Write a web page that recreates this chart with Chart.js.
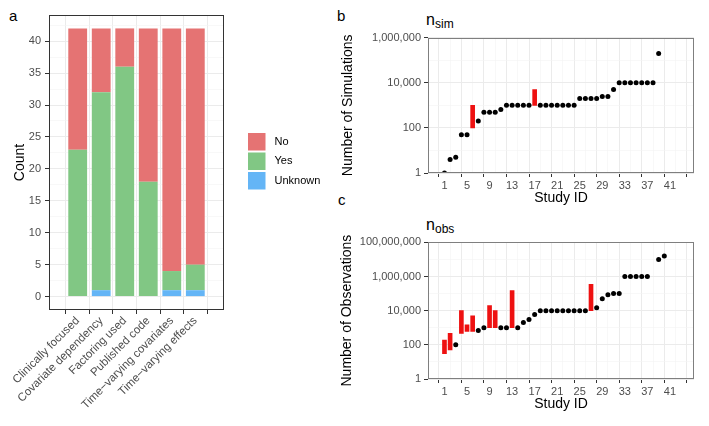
<!DOCTYPE html>
<html>
<head>
<meta charset="utf-8">
<script src="https://cdn.jsdelivr.net/npm/chart.js@4.4.1/dist/chart.umd.min.js"></script>
<style>
  body { margin: 0; background: #fff; width: 709px; height: 426px; position: relative; overflow: hidden;
         font-family: 'Liberation Sans', Arial, sans-serif; }
  canvas { position: absolute; }
  .lab { position: absolute; line-height: 1; color: #000; white-space: nowrap; }
</style>
</head>
<body>
<div class="lab" style="left:9px;top:8px;font-size:15px">a</div>
<div class="lab" style="left:337px;top:8px;font-size:15px">b</div>
<div class="lab" style="left:338px;top:192px;font-size:15px">c</div>
<div class="lab" style="left:426px;top:11.5px;font-size:16px">n</div>
<div class="lab" style="left:435px;top:18px;font-size:12px">sim</div>
<div class="lab" style="left:426px;top:216.5px;font-size:16px">n</div>
<div class="lab" style="left:435px;top:222.5px;font-size:12px">obs</div>

<canvas id="ca" width="330" height="426" style="left:0;top:0"></canvas>
<canvas id="cb" width="379" height="210" style="left:330px;top:0"></canvas>
<canvas id="cc" width="379" height="206" style="left:330px;top:210px"></canvas>

<script>
// panel a - counts per study characteristic
const categories = ['Clinically focused', 'Covariate dependency', 'Factoring used',
                    'Published code', 'Time\u2212varying covariates', 'Time\u2212varying effects'];
const noCounts      = [19, 10, 6, 24, 38, 37];
const yesCounts     = [23, 31, 36, 18, 3, 4];
const unknownCounts = [0, 1, 0, 0, 1, 1];
const countTicks = [0, 2.5, 5, 7.5, 10, 12.5, 15, 17.5, 20, 22.5, 25, 27.5, 30, 32.5, 35, 37.5, 40, 42.5];

// panel b - number of simulations
const simIds    = [1, 2, 3, 4, 5, 7, 8, 9, 10, 11, 12, 13, 14, 15, 16, 18, 19, 20, 21, 22, 23, 24,
                   25, 26, 27, 28, 29, 30, 31, 32, 33, 34, 35, 36, 37, 38, 39];
const simValues = [1, 4, 5, 50, 50, 200, 500, 500, 500, 650, 1000, 1000, 1000, 1000, 1000,
                   1000, 1000, 1000, 1000, 1000, 1000, 1000, 2000, 2000, 2000, 2000, 2500, 2500,
                   5000, 10000, 10000, 10000, 10000, 10000, 10000, 10000, 200000];
const simRangeIds  = [6, 17];
const simRangeLow  = [100, 1000];
const simRangeHigh = [1000, 5000];
const simTicks = [1, 10, 100, 1000, 10000, 100000, 1000000];

// panel c - number of observations
const obsIds    = [3, 7, 8, 11, 12, 14, 15, 16, 17, 18, 19, 20, 21, 22, 23, 24, 25, 26,
                   28, 29, 30, 31, 32, 33, 34, 35, 36, 37, 39, 40];
const obsValues = [100, 700, 1000, 1000, 1000, 1000, 2000, 3000, 6000, 10000, 10000, 10000,
                   10000, 10000, 10000, 10000, 10000, 10000, 15000, 50000, 85000, 100000, 100000,
                   1000000, 1000000, 1000000, 1000000, 1000000, 10000000, 16000000];
const obsRangeIds  = [1, 2, 4, 5, 6, 9, 10, 13, 27];
const obsRangeLow  = [30, 50, 470, 600, 600, 1000, 1000, 1000, 10000];
const obsRangeHigh = [190, 470, 10000, 1500, 5000, 20000, 10000, 150000, 350000];
const obsTicks = [1, 10, 100, 1000, 10000, 100000, 1000000, 10000000, 100000000];

const studyTicks = [1, 3, 5, 7, 9, 11, 13, 15, 17, 19, 21, 23, 25, 27, 29, 31, 33, 35, 37, 39, 41, 43];

Chart.defaults.font.family = "'Liberation Sans', Arial, sans-serif";
Chart.defaults.animation = false;
Chart.defaults.plugins.legend.display = false;
Chart.defaults.plugins.tooltip.enabled = false;

const TICK_COL = '#4D4D4D';

// border round the panel
const framePlugin = {
  id: 'frame',
  afterDraw(chart, args, opts) {
    const {ctx, chartArea: a} = chart;
    ctx.save();
    ctx.strokeStyle = opts.color;
    ctx.lineWidth = opts.width;
    ctx.strokeRect(Math.round(a.left) + 0.5, Math.round(a.top) + 0.5,
                   Math.round(a.right - a.left) - 1, Math.round(a.bottom - a.top) - 1);
    ctx.restore();
  }
};

// ggplot-like legend to the right of panel a
const keyLegend = {
  id: 'keyLegend',
  afterDraw(chart, args, o) {
    if (!o || !o.show) return;
    const ctx = chart.ctx;
    const items = chart.data.datasets.slice().reverse();
    ctx.save();
    items.forEach((ds, i) => {
      const y = o.top + i * o.size;
      ctx.fillStyle = ds.backgroundColor;
      ctx.fillRect(o.left + 1, y + 1, o.size - 2, o.size - 2);
      ctx.fillStyle = '#000';
      ctx.font = "11px 'Liberation Sans', Arial, sans-serif";
      ctx.textBaseline = 'middle';
      ctx.fillText(ds.label, o.left + o.size + 8, y + o.size / 2);
    });
    ctx.restore();
  }
};

const majorStudy = v => (v - 1) % 4 === 0;
const majorDecade = v => Math.round(Math.log10(v)) % 2 === 0;
const majorCount = v => v % 5 === 0;

function gridOpts(isMajor) {
  const maj = c => !c.tick || isMajor(c.tick.value);
  return {
    color: c => maj(c) ? '#EBEBEB' : '#F3F3F3',
    lineWidth: c => maj(c) ? 1 : 0.6,
    tickLength: 4,
    tickColor: c => maj(c) ? '#333333' : 'rgba(0,0,0,0)'
  };
}

// ---- panel a ----
new Chart(document.getElementById('ca'), {
  type: 'bar',
  data: {
    datasets: [
      { label: 'Unknown', data: unknownCounts.map((v, i) => ({x: i + 1, y: v})), backgroundColor: '#64B5F6', stack: 's' },
      { label: 'Yes', data: yesCounts.map((v, i) => ({x: i + 1, y: v})), backgroundColor: '#81C784', stack: 's' },
      { label: 'No', data: noCounts.map((v, i) => ({x: i + 1, y: v})), backgroundColor: '#E57373', stack: 's' }
    ]
  },
  options: {
    responsive: false,
    categoryPercentage: 1,
    barPercentage: 0.8,
    layout: { padding: { left: 0, top: 15, right: 106, bottom: 0 } },
    scales: {
      x: {
        type: 'linear', min: 0.4, max: 6.6, bounds: 'data',
        afterBuildTicks: s => { s.ticks = categories.map((c, i) => ({value: i + 1})); },
        afterFit: s => { s.height = 116; },
        ticks: { callback: v => categories[v - 1], color: TICK_COL, font: {size: 11.5},
                 minRotation: 45, maxRotation: 45, autoSkip: false, padding: 0 },
        grid: gridOpts(() => true),
        border: { display: false }
      },
      y: {
        type: 'linear', min: -2.1, max: 44.1, bounds: 'data', stacked: true,
        afterBuildTicks: s => { s.ticks = countTicks.map(v => ({value: v})); },
        afterFit: s => { s.width = 49; },
        ticks: { callback: v => majorCount(v) ? String(v) : '', color: TICK_COL, font: {size: 11}, padding: 4 },
        grid: gridOpts(majorCount),
        border: { display: false },
        title: { display: true, text: 'Count', color: '#000', font: {size: 14}, padding: {top: 11.6, bottom: 0} }
      }
    },
    plugins: {
      frame: { color: '#333333', width: 1 },
      keyLegend: { show: true, left: 247, top: 132, size: 19.5 }
    }
  },
  plugins: [framePlugin, keyLegend]
});

// ---- panels b and c ----
function studyChart(id, ids, values, rIds, rLow, rHigh, yTicks, yMax, yTitle, topPad, titlePad) {
  return new Chart(document.getElementById(id), {
    type: 'scatter',
    data: {
      datasets: [
        { type: 'bar', data: rIds.map((s, i) => ({x: s, y: [rLow[i], rHigh[i]]})),
          backgroundColor: '#EE1111', barThickness: 4 },
        { type: 'scatter', data: ids.map((s, i) => ({x: s, y: values[i]})),
          backgroundColor: '#000', borderColor: '#000', borderWidth: 0, pointRadius: 2.5 }
      ]
    },
    options: {
      responsive: false,
      layout: { padding: { left: 0, top: topPad, right: 15, bottom: 0 } },
      scales: {
        x: {
          type: 'linear', min: -0.85, max: 44.2, bounds: 'data',
          afterBuildTicks: s => { s.ticks = studyTicks.map(v => ({value: v})); },
          afterFit: s => { s.height = 37; },
          ticks: { callback: v => majorStudy(v) ? String(v) : '', color: TICK_COL, font: {size: 11},
                   maxRotation: 0, autoSkip: false, padding: 2 },
          grid: gridOpts(majorStudy),
          border: { display: false },
          title: { display: true, text: 'Study ID', color: '#000', font: {size: 14}, padding: {top: 0, bottom: 3.1} }
        },
        y: {
          type: 'logarithmic', min: 1, max: yMax, bounds: 'data',
          afterBuildTicks: s => { s.ticks = yTicks.map(v => ({value: v})); },
          afterFit: s => { s.width = 98; },
          ticks: { callback: v => majorDecade(v) ? v.toLocaleString('en-US') : '', color: TICK_COL,
                   font: {size: 11}, padding: 3, autoSkip: false },
          grid: gridOpts(majorDecade),
          border: { display: false },
          title: { display: true, text: yTitle, color: '#000', font: {size: 14}, padding: {top: titlePad, bottom: 0} }
        }
      },
      plugins: { frame: { color: '#7F7F7F', width: 1 } }
    },
    plugins: [framePlugin]
  });
}

studyChart('cb', simIds, simValues, simRangeIds, simRangeLow, simRangeHigh, simTicks, 1000000,
           'Number of Simulations', 37.7, 9.6);
studyChart('cc', obsIds, obsValues, obsRangeIds, obsRangeLow, obsRangeHigh, obsTicks, 100000000,
           'Number of Observations', 32.3, 8.6);
</script>
</body>
</html>
